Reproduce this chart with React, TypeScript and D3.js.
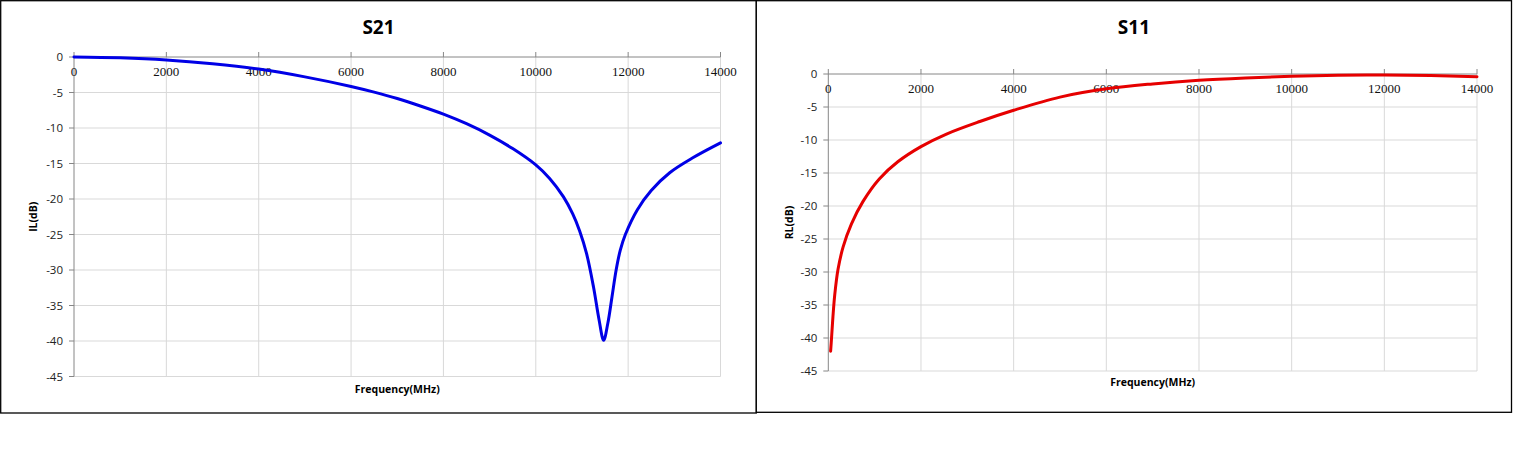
import * as d3 from "d3";

// S21 (insertion loss)
const s21Freq = [0, 1000, 2000, 3000, 4000, 5000, 6000, 6500, 7000, 7500, 8000, 8500, 9000, 9500, 10000, 10300, 10600, 10800, 10950, 11100, 11250, 11370, 11470, 11560, 11650, 11740, 11830, 11940, 12200, 12500, 12900, 13400, 14000];
const s21Db = [0, -0.12, -0.42, -0.95, -1.7, -2.8, -4.15, -4.95, -5.85, -6.9, -8.05, -9.4, -11.0, -12.9, -15.2, -17.1, -19.7, -22.1, -24.5, -27.7, -32.4, -37.0, -39.9, -37.5, -33.8, -30.0, -27.2, -25.0, -21.5, -18.8, -16.3, -14.2, -12.1];

// S11 (return loss)
const s11Freq = [50, 70, 100, 140, 210, 320, 500, 750, 1100, 1500, 2000, 2550, 3270, 4000, 5000, 6000, 7000, 8000, 9000, 10000, 11000, 12000, 13000, 14000];
const s11Db = [-42.0, -40.0, -36.8, -33.4, -29.6, -26.2, -22.7, -19.3, -15.9, -13.3, -11.0, -9.1, -7.2, -5.5, -3.5, -2.25, -1.5, -0.95, -0.6, -0.35, -0.2, -0.15, -0.22, -0.42];

const xTicks = [0, 2000, 4000, 6000, 8000, 10000, 12000, 14000];
const yTicks = [0, -5, -10, -15, -20, -25, -30, -35, -40, -45];

const sansFont = "'Open Sans', 'DejaVu Sans', sans-serif";
const serifFont = "'Liberation Serif', 'DejaVu Serif', serif";

type PanelProps = {
  title: string;
  yLabel: string;
  freq: number[];
  db: number[];
  color: string;
  box: [number, number, number, number]; // x0, y0, x1, y1 of frame
  plot: [number, number, number, number]; // left, top, right, bottom
  titleY: number;
  yLabelX: number;
  xLabelY: number;
};

function Panel({ title, yLabel, freq, db, color, box, plot, titleY, yLabelX, xLabelY }: PanelProps) {
  const [left, top, right, bottom] = plot;
  const x = d3.scaleLinear().domain([0, 14000]).range([left, right]);
  const y = d3.scaleLinear().domain([0, -45]).range([top, bottom]);

  const pts = freq.map((f, i) => [f, db[i]] as [number, number]);
  const line = d3
    .line<[number, number]>()
    .x((d) => x(d[0]))
    .y((d) => y(d[1]))
    .curve(d3.curveCatmullRom.alpha(0.5));

  const cx = (box[0] + box[2]) / 2;
  const plotMid = (left + right) / 2;

  return (
    <g>
      <rect
        x={box[0]}
        y={box[1]}
        width={box[2] - box[0]}
        height={box[3] - box[1]}
        fill="white"
        stroke="black"
        strokeWidth={1.3}
      />
      <text x={cx} y={titleY} textAnchor="middle" fontFamily={sansFont} fontWeight="bold" fontSize={19}>
        {title}
      </text>

      {/* gridlines */}
      {yTicks.slice(1).map((t) => (
        <line key={"gy" + t} x1={left} x2={right} y1={y(t)} y2={y(t)} stroke="#d9d9d9" strokeWidth={1} />
      ))}
      {xTicks.slice(1).map((t) => (
        <line key={"gx" + t} x1={x(t)} x2={x(t)} y1={top} y2={bottom} stroke="#d9d9d9" strokeWidth={1} />
      ))}

      {/* axes */}
      <line x1={left} x2={right} y1={top} y2={top} stroke="#868686" strokeWidth={1} />
      <line x1={left} x2={left} y1={top} y2={bottom} stroke="#868686" strokeWidth={1} />
      {yTicks.map((t) => (
        <line key={"ty" + t} x1={left - 5} x2={left} y1={y(t)} y2={y(t)} stroke="#868686" strokeWidth={1} />
      ))}
      {xTicks.map((t) => (
        <line key={"tx" + t} x1={x(t)} x2={x(t)} y1={top - 5} y2={top} stroke="#868686" strokeWidth={1} />
      ))}

      {yTicks.map((t) => (
        <text
          key={"ly" + t}
          x={left - 11}
          y={y(t)}
          dy="0.35em"
          textAnchor="end"
          fontFamily={sansFont}
          fontSize={11.5}
          fill="#222"
        >
          {t}
        </text>
      ))}
      {xTicks.map((t) => (
        <text key={"lx" + t} x={x(t)} y={top + 19} textAnchor="middle" fontFamily={serifFont} fontSize={13} fill="#111">
          {t}
        </text>
      ))}

      <path d={line(pts) ?? ""} fill="none" stroke={color} strokeWidth={3} strokeLinejoin="round" strokeLinecap="round" />

      <text
        transform={`translate(${yLabelX},${(top + bottom) / 2}) rotate(-90)`}
        textAnchor="middle"
        dy="0.35em"
        fontFamily={sansFont}
        fontWeight="bold"
        fontSize={10.5}
      >
        {yLabel}
      </text>
      <text x={plotMid} y={xLabelY} textAnchor="middle" fontFamily={sansFont} fontWeight="bold" fontSize={10.5}>
        Frequency(MHz)
      </text>
    </g>
  );
}

export default function App() {
  return (
    <svg width={1513} height={460} style={{ position: "absolute", left: 0, top: 0, background: "white" }}>
      <Panel
        title="S21"
        yLabel="IL(dB)"
        freq={s21Freq}
        db={s21Db}
        color="#0000e6"
        box={[0.7, 0.7, 756.3, 413]}
        plot={[74, 57, 720.5, 376.5]}
        titleY={34}
        yLabelX={33}
        xLabelY={393}
      />
      <Panel
        title="S11"
        yLabel="RL(dB)"
        freq={s11Freq}
        db={s11Db}
        color="#e60000"
        box={[756.3, 0.7, 1511.5, 412.3]}
        plot={[828.3, 74, 1477, 371]}
        titleY={34}
        yLabelX={789}
        xLabelY={386}
      />
    </svg>
  );
}
